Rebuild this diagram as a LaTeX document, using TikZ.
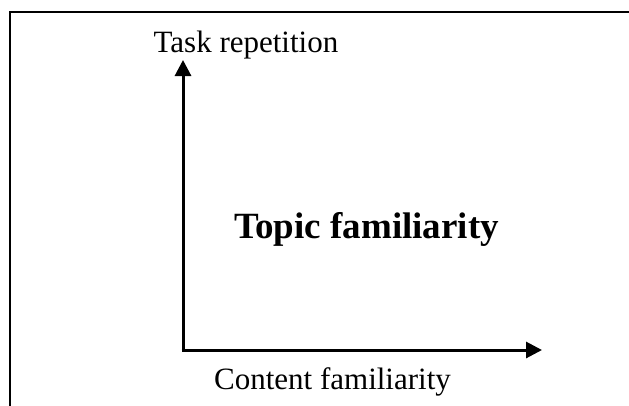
\documentclass[tikz,border=0pt]{standalone}
\usepackage{fontspec}
\setmainfont{Liberation Serif}
\usetikzlibrary{arrows.meta}
\begin{document}
\begin{tikzpicture}[x=1pt,y=-1pt,
  axis/.style={line width=3pt,-{Triangle[length=16pt,width=16pt]}},
  lbl/.style={font=\fontsize{31}{34}\selectfont,anchor=base,inner sep=0pt},
  big/.style={font=\fontsize{37}{40}\selectfont\bfseries,anchor=base,inner sep=0pt}]
\useasboundingbox (0,0) rectangle (629,405);
\fill[white] (0,0) rectangle (629,405);
\draw[line width=2.2pt] (10,420) -- (10,12) -- (640,12);
\coordinate (o) at (183,350);
\coordinate (ytip) at (183,60);
\coordinate (xtip) at (542,350);
\draw[axis] ([yshift=1.5pt]o) -- (ytip);
\draw[axis] ([xshift=-1.5pt]o) -- (xtip);
\node[lbl] (ty) at (246,52) {Task repetition};
\node[lbl] (tx) at (332.5,389) {Content familiarity};
\node[big] (tc) at (366.5,238) {Topic familiarity};
\end{tikzpicture}
\end{document}
